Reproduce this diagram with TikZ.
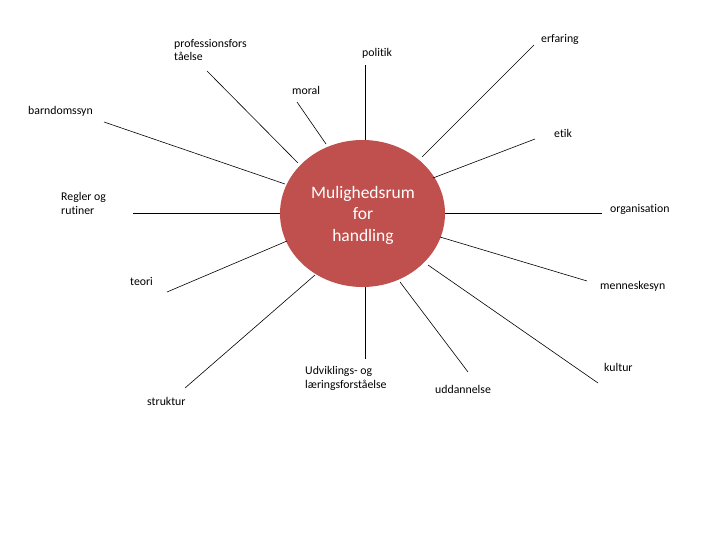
\documentclass[tikz,border=0pt]{standalone}
\usepackage{fontspec}
\setmainfont{Carlito}[Ligatures=NoCommon]
\usetikzlibrary{shapes.geometric}
\definecolor{hubred}{HTML}{C0504D}
\begin{document}
\begin{tikzpicture}[x=1pt,y=-1pt,
  lbl/.style={anchor=west,inner sep=0pt,align=left,font=\fontsize{11.8}{13.5}\selectfont},
  spoke/.style={draw=black,line width=0.6pt}]
\useasboundingbox (0,0) rectangle (720,540);
\fill[white] (0,0) rectangle (720,540);
% hub
\node[ellipse,fill=hubred,minimum width=165pt,minimum height=147pt,inner sep=0pt] (hub) at (362.5,213.5) {};
\node[text=white,align=center,inner sep=0pt,font=\fontsize{17.5}{21.5}\selectfont] (hubtext) at (363,215)
  {Mulighedsrum\\for\\handling};
% labels
\node[lbl] (prof) at (174,50) {professionsfors\\tåelse};
\node[lbl] (pol) at (362,53) {politik};
\node[lbl] (erf) at (541,39) {erfaring};
\node[lbl] (mor) at (292,90) {moral};
\node[lbl] (barn) at (28,111) {barndomssyn};
\node[lbl] (etik) at (554,133) {etik};
\node[lbl] (regl) at (61,203.5) {Regler og\\rutiner};
\node[lbl] (org) at (610,209) {organisation};
\node[lbl] (teo) at (130,281) {teori};
\node[lbl] (menn) at (600,286) {menneskesyn};
\node[lbl] (udv) at (305,378.5) {Udviklings- og\\læringsforståelse};
\node[lbl] (kul) at (604,367) {kultur};
\node[lbl] (str) at (147,401) {struktur};
\node[lbl] (udd) at (435,389) {uddannelse};
% spoke ends
\coordinate (profA) at (207,71);   \coordinate (profB) at (298,163);
\coordinate (morA) at (297,102);   \coordinate (morB) at (326,144);
\coordinate (barnA) at (104,122);  \coordinate (barnB) at (285,184);
\coordinate (polA) at (365,65);    \coordinate (polB) at (365,140);
\coordinate (erfA) at (534,45);    \coordinate (erfB) at (422,157);
\coordinate (etikA) at (535,139);  \coordinate (etikB) at (433,178);
\coordinate (reglA) at (133,213);  \coordinate (reglB) at (280,213);
\coordinate (orgA) at (602,213);   \coordinate (orgB) at (445,213);
\coordinate (teoA) at (167,292);   \coordinate (teoB) at (287,241);
\coordinate (mennA) at (587,281);  \coordinate (mennB) at (440,237);
\coordinate (strA) at (185,388);   \coordinate (strB) at (315,275);
\coordinate (udvA) at (365,359);   \coordinate (udvB) at (365,287);
\coordinate (uddA) at (468,372);   \coordinate (uddB) at (400,282);
\coordinate (kulA) at (598,383);   \coordinate (kulB) at (428,265);
\foreach \s in {prof,mor,barn,pol,erf,etik,regl,org,teo,menn,str,udv,udd,kul}
  \draw[spoke] (\s A) -- (\s B);
\end{tikzpicture}
\end{document}
